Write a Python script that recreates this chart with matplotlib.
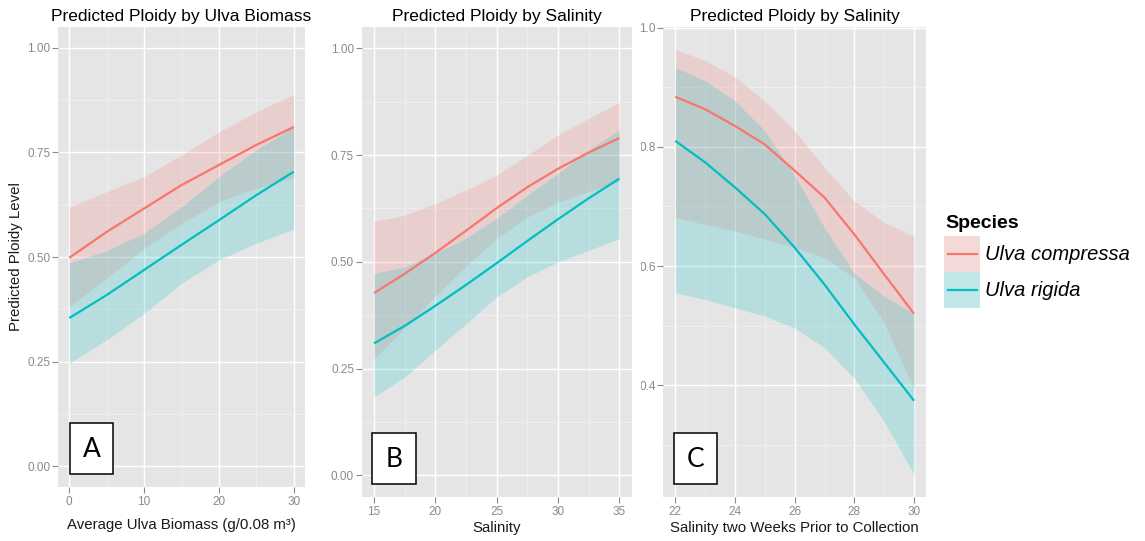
import matplotlib
matplotlib.use("Agg")
import matplotlib.pyplot as plt
from matplotlib.patches import Rectangle
from matplotlib.lines import Line2D
from matplotlib.transforms import Bbox

# ---------------- data ----------------
species = ["Ulva compressa", "Ulva rigida"]
colors = ["#F8766D", "#00BFC4"]

# Panel A: biomass
a_x = [0, 5, 10, 15, 20, 25, 30]
a_comp_fit = [0.498, 0.560, 0.616, 0.672, 0.720, 0.768, 0.811]
a_comp_hi = [0.619, 0.656, 0.692, 0.744, 0.799, 0.847, 0.889]
a_comp_lo = [0.381, 0.450, 0.520, 0.580, 0.632, 0.665, 0.690]
a_rig_fit = [0.354, 0.409, 0.469, 0.529, 0.588, 0.648, 0.704]
a_rig_hi = [0.486, 0.515, 0.557, 0.620, 0.692, 0.756, 0.811]
a_rig_lo = [0.246, 0.302, 0.365, 0.437, 0.493, 0.533, 0.567]

# Panel B: salinity
b_x = [15, 17.5, 20, 22.5, 25, 27.5, 30, 32.5, 35]
b_comp_fit = [0.427, 0.472, 0.521, 0.573, 0.626, 0.675, 0.718, 0.756, 0.790]
b_comp_hi = [0.595, 0.609, 0.637, 0.668, 0.703, 0.750, 0.797, 0.836, 0.873]
b_comp_lo = [0.273, 0.345, 0.420, 0.490, 0.555, 0.605, 0.640, 0.665, 0.688]
b_rig_fit = [0.309, 0.350, 0.397, 0.446, 0.497, 0.549, 0.600, 0.649, 0.695]
b_rig_hi = [0.473, 0.488, 0.520, 0.555, 0.602, 0.656, 0.707, 0.762, 0.809]
b_rig_lo = [0.184, 0.230, 0.293, 0.355, 0.418, 0.465, 0.500, 0.527, 0.555]

# Panel C: salinity two weeks prior
c_x = [22, 23, 24, 25, 26, 27, 28, 29, 30]
c_comp_fit = [0.884, 0.863, 0.835, 0.804, 0.760, 0.715, 0.653, 0.586, 0.520]
c_comp_hi = [0.963, 0.945, 0.917, 0.877, 0.827, 0.765, 0.709, 0.673, 0.650]
c_comp_lo = [0.681, 0.670, 0.659, 0.645, 0.631, 0.614, 0.580, 0.505, 0.393]
c_rig_fit = [0.810, 0.774, 0.732, 0.687, 0.631, 0.569, 0.502, 0.438, 0.374]
c_rig_hi = [0.933, 0.911, 0.877, 0.827, 0.752, 0.664, 0.588, 0.549, 0.520]
c_rig_lo = [0.555, 0.544, 0.530, 0.516, 0.496, 0.463, 0.412, 0.339, 0.250]

titles = ["Predicted Ploidy by Ulva Biomass", "Predicted Ploidy by Salinity",
          "Predicted Ploidy by Salinity"]
xlabels = ["Average Ulva Biomass (g/0.08 m³)", "Salinity",
           "Salinity two Weeks Prior to Collection"]
ylabel = "Predicted Ploidy Level"
panel_letters = ["A", "B", "C"]
legend_title = "Species"

a_xticks = [0, 10, 20, 30]
b_xticks = [15, 20, 25, 30, 35]
c_xticks = [22, 24, 26, 28, 30]
ab_yticks = [0.00, 0.25, 0.50, 0.75, 1.00]
c_yticks = [0.4, 0.6, 0.8, 1.0]

# ---------------- style ----------------
plt.rcParams['font.family'] = ['Liberation Sans', 'DejaVu Sans']
W, H = 1145, 541
fig = plt.figure(figsize=(W / 100, H / 100), dpi=100)
fig.patch.set_facecolor("white")

BG = "#E5E5E5"
TICKC = "#8A8A8A"


def rect(x0, y0, x1, y1):
    return [x0 / W, 1 - y1 / H, (x1 - x0) / W, (y1 - y0) / H]


def fx(x):
    return x / W


def fy(y):
    return 1 - y / H


def style(ax, xticks, xminor, yticks, yminor, yfmt):
    ax.set_facecolor(BG)
    for s in ax.spines.values():
        s.set_visible(False)
    ax.set_xticks(xticks)
    ax.set_xticks(xminor, minor=True)
    ax.set_yticks(yticks)
    ax.set_yticks(yminor, minor=True)
    ax.set_yticklabels([yfmt.format(v) for v in yticks])
    ax.set_xticklabels([str(v) for v in xticks])
    ax.grid(True, which="major", color="white", lw=1.0)
    ax.grid(True, which="minor", color="#F2F2F2", lw=0.5)
    ax.set_axisbelow(True)
    ax.tick_params(which="major", length=4, width=0.8, color=TICKC,
                   labelcolor=TICKC, labelsize=8.5, pad=1.5)
    ax.tick_params(axis="x", which="major", pad=2.5)
    ax.tick_params(which="minor", length=0)


def draw(ax, x, fits, his, los):
    for c, lo, hi in zip(colors, los, his):
        ax.fill_between(x, lo, hi, color=c, alpha=0.2, lw=0)
    for c, f in zip(colors, fits):
        ax.plot(x, f, color=c, lw=1.6, solid_capstyle="butt")


axA = fig.add_axes(rect(58, 27, 305, 487))
axB = fig.add_axes(rect(361.7, 27, 631.7, 496.7))
axC = fig.add_axes(rect(663.3, 27, 926, 496.7))

draw(axA, a_x, [a_comp_fit, a_rig_fit], [a_comp_hi, a_rig_hi], [a_comp_lo, a_rig_lo])
draw(axB, b_x, [b_comp_fit, b_rig_fit], [b_comp_hi, b_rig_hi], [b_comp_lo, b_rig_lo])
draw(axC, c_x, [c_comp_fit, c_rig_fit], [c_comp_hi, c_rig_hi], [c_comp_lo, c_rig_lo])

axA.set_xlim(-1.5, 31.5)
axA.set_ylim(-0.05, 1.05)
axB.set_xlim(14.0, 36.0)
axB.set_ylim(-0.05, 1.05)
axC.set_xlim(21.6, 30.4)
axC.set_ylim(0.213, 1.001)

abminor = [0.125, 0.375, 0.625, 0.875]
style(axA, a_xticks, [5, 15, 25], ab_yticks, abminor, "{:.2f}")
style(axB, b_xticks, [17.5, 22.5, 27.5, 32.5], ab_yticks, abminor, "{:.2f}")
style(axC, c_xticks, [23, 25, 27, 29], c_yticks, [0.3, 0.5, 0.7, 0.9], "{:.1f}")

# titles
for (cx, cy), t in zip([(181, 17), (497, 16), (794.5, 16)], titles):
    fig.text(fx(cx), fy(cy), t, ha="center", va="center", fontsize=12.5, color="black")
# x labels
for (cx, cy), t in zip([(181, 525), (497, 528), (794, 528)], xlabels):
    fig.text(fx(cx), fy(cy), t, ha="center", va="center", fontsize=10.8, color="#1a1a1a")
# y label
fig.text(fx(16), fy(257), ylabel, ha="center", va="center", rotation=90,
         fontsize=10.8, color="#1a1a1a")

# panel letter boxes
for (x0, y0, x1, y1), letter in zip([(70, 423, 113, 474), (371.7, 433, 415.7, 484),
                                      (674.3, 433, 716.7, 484)], panel_letters):
    fig.patches.append(Rectangle((fx(x0), fy(y1)), fx(x1 - x0), (y1 - y0) / H,
                                 transform=fig.transFigure, facecolor="white",
                                 edgecolor="black", lw=1.1, zorder=5))
    fig.text(fx((x0 + x1) / 2), fy((y0 + y1) / 2 + 1), letter, ha="center", va="center",
             fontsize=19, family=["Lato", "DejaVu Sans"], color="black", zorder=6)

# legend
fig.text(fx(945), fy(223), legend_title, ha="left", va="center", fontsize=14,
         fontweight="bold", color="black")
for i, (name, c) in enumerate(zip(species, colors)):
    y0 = 236 + 36 * i
    fig.patches.append(Rectangle((fx(944), fy(y0 + 36)), fx(36), 36 / H,
                                 transform=fig.transFigure, facecolor="#F2F2F2",
                                 edgecolor="none", zorder=3))
    fig.patches.append(Rectangle((fx(944), fy(y0 + 36)), fx(36), 36 / H,
                                 transform=fig.transFigure, facecolor=c, alpha=0.2,
                                 edgecolor="none", zorder=4))
    fig.lines.append(Line2D([fx(948), fx(977)], [fy(y0 + 18), fy(y0 + 18)],
                            transform=fig.transFigure, color=c, lw=1.6, zorder=5))
    fig.text(fx(985), fy(y0 + 19), name, ha="left", va="center", fontsize=14.5,
             style="italic", color="black")

# clip the left part of panel C's y tick labels (as in the cropped original)
fig.canvas.draw()
clipbox = Bbox.from_extents(640.5, 0, W, H)
for lab in axC.get_yticklabels():
    lab.set_clip_on(True)
    lab.set_clip_box(clipbox)

fig.savefig("out.png", dpi=100, facecolor="white")
